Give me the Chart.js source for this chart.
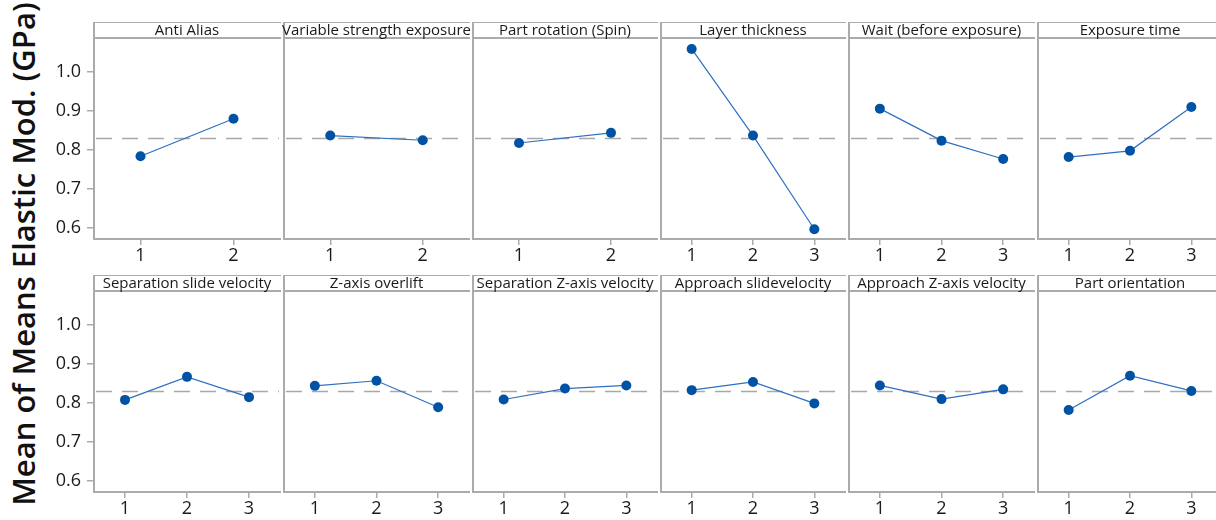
<!DOCTYPE html>
<html>
<head>
<meta charset="utf-8">
<script src="https://cdn.jsdelivr.net/npm/chart.js@4.4.0/dist/chart.umd.min.js"></script>
<style>
  html, body { margin: 0; padding: 0; overflow: hidden; background: #fff; }
  #wrap { position: relative; width: 1216px; height: 520px; overflow: hidden; font-family: "Open Sans", sans-serif; }
  #wrap canvas { position: absolute; }
  #ytitle {
    position: absolute; left: 23px; top: 254px;
    transform: translate(-50%, -50%) rotate(-90deg);
    white-space: nowrap; font-size: 31px; font-weight: 600; color: #111;
  }
</style>
</head>
<body>
<div id="wrap">
  <div id="ytitle">Mean of Means Elastic Mod. (GPa)</div>
</div>
<script>
// factor levels
const levels2 = ['1', '2'];
const levels3 = ['1', '2', '3'];

// panel titles, row by row
const factorNames = [
  'Anti Alias', 'Variable strength exposure', 'Part rotation (Spin)',
  'Layer thickness', 'Wait (before exposure)', 'Exposure time',
  'Separation slide velocity', 'Z-axis overlift', 'Separation Z-axis velocity',
  'Approach slidevelocity', 'Approach Z-axis velocity', 'Part orientation'
];

// mean of means per level
const antiAlias = [0.783, 0.879];
const variableStrength = [0.836, 0.824];
const partRotation = [0.817, 0.843];
const layerThickness = [1.058, 0.836, 0.596];
const waitBeforeExposure = [0.905, 0.823, 0.776];
const exposureTime = [0.781, 0.797, 0.909];
const sepSlideVelocity = [0.807, 0.866, 0.814];
const zAxisOverlift = [0.843, 0.856, 0.788];
const sepZVelocity = [0.808, 0.836, 0.844];
const approachSlideVelocity = [0.832, 0.853, 0.798];
const approachZVelocity = [0.844, 0.809, 0.834];
const partOrientation = [0.781, 0.869, 0.830];

const grandMean = 0.829;
const yTicks = [0.6, 0.7, 0.8, 0.9, 1.0];

const series = [
  antiAlias, variableStrength, partRotation, layerThickness, waitBeforeExposure, exposureTime,
  sepSlideVelocity, zAxisOverlift, sepZVelocity, approachSlideVelocity, approachZVelocity, partOrientation
];

// layout
const Y_MIN = 0.571, Y_MAX = 1.086;
const LEFT0 = 94, COL_W = 188.35;
const ROW_TOP = [22, 275];
const STRIP = 16, PLOT_H = 201, X_H = 30, Y_W = 54, PADX = 3;
const FRAME = '#ababab';
const TICK_FONT = { family: 'Open Sans', size: 18 };

// the right edge of each box is the left edge of the next one
function framePlugin(title) {
  return {
    id: 'panelFrame',
    beforeDatasetsDraw(chart) {
      const { ctx, chartArea: a, scales } = chart;
      const my = Math.round(scales.y.getPixelForValue(grandMean)) + 0.5;
      ctx.save();
      // grand mean reference line
      ctx.strokeStyle = '#a9a9a9';
      ctx.lineWidth = 1.5;
      ctx.setLineDash([16, 10]);
      ctx.beginPath();
      ctx.moveTo(a.left + 2, my);
      ctx.lineTo(a.right - 1, my);
      ctx.stroke();
      ctx.setLineDash([]);
      // panel box and title strip
      const top = a.top - STRIP;
      ctx.strokeStyle = FRAME;
      ctx.lineWidth = 2;
      ctx.beginPath();
      ctx.moveTo(a.right + 1, top);
      ctx.lineTo(a.left, top);
      ctx.lineTo(a.left, a.bottom);
      ctx.lineTo(a.right + 1, a.bottom);
      ctx.moveTo(a.left, a.top);
      ctx.lineTo(a.right + 1, a.top);
      ctx.stroke();
      ctx.fillStyle = '#1a1a1a';
      ctx.font = '15px "Open Sans"';
      ctx.textAlign = 'center';
      ctx.textBaseline = 'middle';
      ctx.fillText(title, (a.left + a.right) / 2, top + STRIP / 2 + 0.5);
      ctx.restore();
    }
  };
}

const wrap = document.getElementById('wrap');

series.forEach((vals, i) => {
  const row = Math.floor(i / 6), col = i % 6;
  const pLeft = Math.round(LEFT0 + col * COL_W);
  const pRight = Math.round(LEFT0 + (col + 1) * COL_W);
  const extra = col === 0 ? Y_W : 0;
  const w = pRight - pLeft + 2 * PADX + extra;
  const h = STRIP + PLOT_H + X_H;
  const cv = document.createElement('canvas');
  cv.width = w;
  cv.height = h;
  cv.style.width = w + 'px';
  cv.style.height = h + 'px';
  cv.style.left = (pLeft - PADX - extra) + 'px';
  cv.style.top = ROW_TOP[row] + 'px';
  wrap.appendChild(cv);

  const yScale = {
    display: col === 0,
    min: Y_MIN,
    max: Y_MAX,
    afterBuildTicks: s => { s.ticks = yTicks.map(v => ({ value: v })); },
    grid: { drawOnChartArea: false, tickLength: 7, color: FRAME, lineWidth: 1.5 },
    border: { display: false },
    ticks: { padding: 6, color: '#1a1a1a', font: TICK_FONT, callback: v => v.toFixed(1) }
  };
  if (col === 0) {
    yScale.afterFit = s => { s.width = Y_W; s.paddingTop = 0; s.paddingBottom = 0; };
  }

  new Chart(cv, {
    type: 'line',
    data: {
      labels: vals.length === 2 ? levels2 : levels3,
      datasets: [{
        data: vals,
        borderColor: '#2f6fbf',
        borderWidth: 1.2,
        pointRadius: 5,
        pointBackgroundColor: '#0053a4',
        pointBorderColor: '#0053a4',
        pointBorderWidth: 0,
        tension: 0
      }]
    },
    options: {
      responsive: false,
      animation: false,
      layout: { padding: { top: STRIP, left: PADX, right: PADX, bottom: 0 } },
      plugins: { legend: { display: false }, tooltip: { enabled: false } },
      scales: {
        x: {
          offset: true,
          grid: { drawOnChartArea: false, tickLength: 6, color: FRAME, lineWidth: 1.5 },
          border: { display: false },
          ticks: { padding: 0, color: '#1a1a1a', font: TICK_FONT, maxRotation: 0 },
          afterFit: s => { s.height = X_H; }
        },
        y: yScale
      }
    },
    plugins: [framePlugin(factorNames[i])]
  });
});
</script>
</body>
</html>
